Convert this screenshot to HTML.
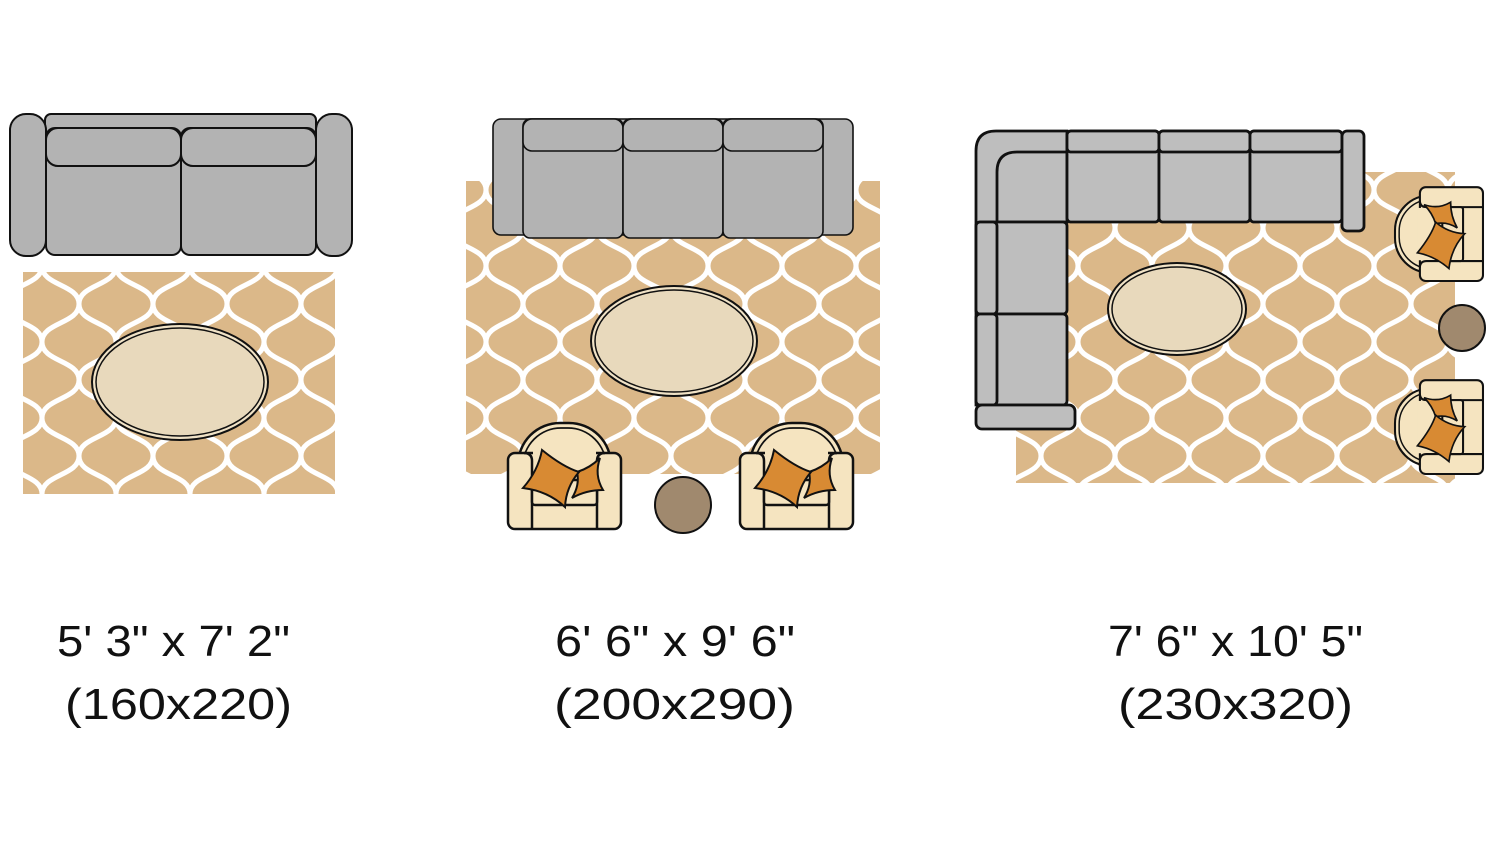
<!DOCTYPE html>
<html><head><meta charset="utf-8"><style>
html,body{margin:0;padding:0;background:#fff;}
svg{display:block;}
text{font-family:"Liberation Sans",sans-serif;font-size:44px;fill:#111;}
</style></head><body>
<svg width="1500" height="844" viewBox="0 0 1500 844" xmlns="http://www.w3.org/2000/svg">
<defs>
<pattern id="ogee" width="74" height="76" patternUnits="userSpaceOnUse" x="5" y="0">
<rect width="74" height="76" fill="#DBB889"/>
<path d="M0,0 C0,20 37,18 37,38 C37,58 74,56 74,76 M74,0 C74,20 37,18 37,38 C37,58 0,56 0,76" fill="none" stroke="#fff" stroke-width="5"/>
</pattern>
<g id="chair">
<rect x="10" y="0" width="93" height="84" rx="42" fill="#F5E4C0" stroke="#111" stroke-width="2.5"/>
<rect x="15" y="5" width="83" height="80" rx="38" fill="#F5E4C0" stroke="#111" stroke-width="1.8"/>
<rect x="0" y="30" width="113" height="76" rx="7" fill="#F5E4C0" stroke="#111" stroke-width="2.5"/>
<rect x="25" y="27" width="63" height="8" fill="#F5E4C0"/>
<path d="M24,106 L24,38 Q24,30 16,30 M89,106 L89,38 Q89,30 97,30" fill="none" stroke="#111" stroke-width="2.5"/>
<rect x="24" y="57" width="65" height="25" rx="3" fill="#F5E4C0" stroke="#111" stroke-width="2.5"/>
<path d="M92,35 Q86,52 95,67 Q78,67 64,75 Q72,62 69,49 Q82,45 92,35Z" fill="#D88A33" stroke="#111" stroke-width="2"/>
<path d="M34,27 Q55,44 71,49 Q58,64 57,84 Q40,68 15,65 Q30,48 34,27Z" fill="#D88A33" stroke="#111" stroke-width="2"/>
</g>
</defs>

<!-- Layout 1 -->
<rect x="23" y="272" width="312" height="222" fill="url(#ogee)"/>
<ellipse cx="180" cy="382" rx="88" ry="58" fill="#F0E2C6" stroke="#111" stroke-width="2"/>
<ellipse cx="180" cy="382" rx="84" ry="54" fill="#E8D9BC" stroke="#111" stroke-width="1.5"/>
<g fill="#B3B3B3" stroke="#111" stroke-width="2">
<rect x="45" y="114" width="271" height="40" rx="6"/>
<rect x="10" y="114" width="36" height="142" rx="16"/>
<rect x="316" y="114" width="36" height="142" rx="16"/>
<rect x="46" y="128" width="135" height="127" rx="9"/>
<rect x="181" y="128" width="135" height="127" rx="9"/>
<rect x="46" y="128" width="135" height="38" rx="12"/>
<rect x="181" y="128" width="135" height="38" rx="12"/>
</g>

<!-- Layout 2 -->
<rect x="466" y="181" width="414" height="293" fill="url(#ogee)"/>
<ellipse cx="674" cy="341" rx="83" ry="55" fill="#F0E2C6" stroke="#111" stroke-width="2"/>
<ellipse cx="674" cy="341" rx="79" ry="51" fill="#E8D9BC" stroke="#111" stroke-width="1.5"/>
<g fill="#B3B3B3" stroke="#111" stroke-width="1.6">
<rect x="493" y="119" width="360" height="116" rx="8"/>
<rect x="523" y="119" width="100" height="119" rx="7"/>
<rect x="623" y="119" width="100" height="119" rx="7"/>
<rect x="723" y="119" width="100" height="119" rx="7"/>
<rect x="523" y="119" width="100" height="32" rx="9"/>
<rect x="623" y="119" width="100" height="32" rx="9"/>
<rect x="723" y="119" width="100" height="32" rx="9"/>
</g>
<use href="#chair" transform="translate(508,423)"/>
<use href="#chair" transform="translate(740,423)"/>
<circle cx="683" cy="505" r="28" fill="#A0896E" stroke="#111" stroke-width="2"/>

<!-- Layout 3 -->
<rect x="1016" y="172" width="439" height="311" fill="url(#ogee)"/>
<ellipse cx="1177" cy="309" rx="69" ry="46" fill="#F0E2C6" stroke="#111" stroke-width="2"/>
<ellipse cx="1177" cy="309" rx="65" ry="42" fill="#E8D9BC" stroke="#111" stroke-width="1.5"/>
<g fill="#BEBEBE" stroke="#111" stroke-width="2.8">
<path d="M1067,131 L1067,222 L997,222 L997,405 L976,405 L976,151 Q976,131 996,131 Z"/>
<path d="M997,222 L997,172 Q997,152 1017,152 L1067,152 L1067,222 Z"/>
<rect x="1067" y="131" width="92" height="91" rx="4"/>
<rect x="1159" y="131" width="91" height="91" rx="4"/>
<rect x="1250" y="131" width="92" height="91" rx="4"/>
<rect x="1067" y="131" width="92" height="21" rx="4"/>
<rect x="1159" y="131" width="91" height="21" rx="4"/>
<rect x="1250" y="131" width="92" height="21" rx="4"/>
<rect x="1342" y="131" width="22" height="100" rx="5"/>
<rect x="976" y="222" width="91" height="92" rx="4"/>
<rect x="976" y="314" width="91" height="91" rx="4"/>
<rect x="976" y="222" width="21" height="92" rx="4"/>
<rect x="976" y="314" width="21" height="91" rx="4"/>
<rect x="976" y="405" width="99" height="24" rx="6"/>
</g>
<use href="#chair" transform="translate(1395,281) rotate(-90) scale(0.83)"/>
<use href="#chair" transform="translate(1395,474) rotate(-90) scale(0.83)"/>
<circle cx="1462" cy="328" r="23" fill="#A0896E" stroke="#111" stroke-width="2"/>

<!-- Labels -->
<text x="57" y="656" textLength="233" lengthAdjust="spacingAndGlyphs">5' 3" x 7' 2"</text>
<text x="65" y="719" textLength="227" lengthAdjust="spacingAndGlyphs">(160x220)</text>
<text x="555" y="656" textLength="240" lengthAdjust="spacingAndGlyphs">6' 6" x 9' 6"</text>
<text x="554" y="719" textLength="241" lengthAdjust="spacingAndGlyphs">(200x290)</text>
<text x="1108" y="656" textLength="255" lengthAdjust="spacingAndGlyphs">7' 6" x 10' 5"</text>
<text x="1118" y="719" textLength="235" lengthAdjust="spacingAndGlyphs">(230x320)</text>
</svg>
</body></html>
